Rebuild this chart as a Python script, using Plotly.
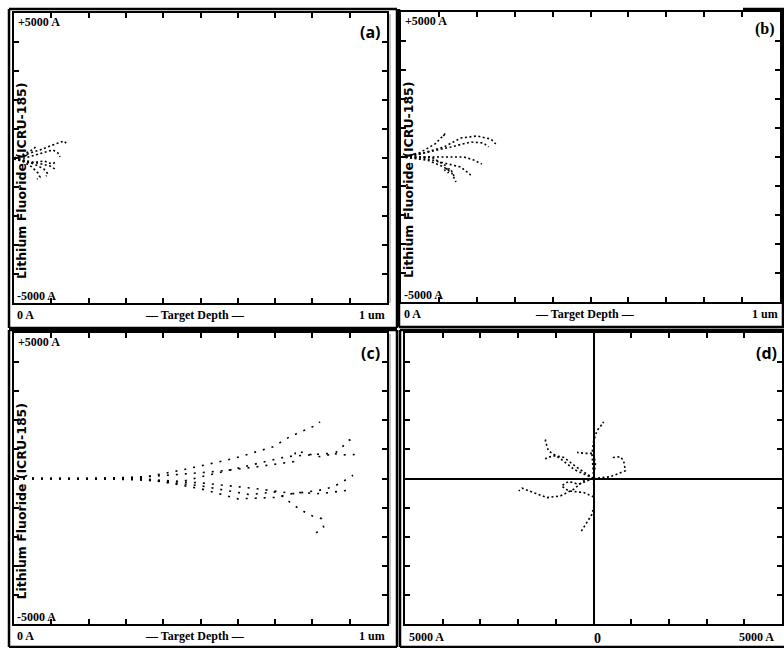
import plotly.graph_objects as go

W, H = 784, 648

# ---------------- data (Angstrom) ----------------
# Panel (a): depth (x) and lateral (y) of ion trajectories
a_tracks_x = [
    [0, 214, 429, 697, 965, 1179, 1340, 1420],
    [0, 295, 563, 831, 1045, 1179, 1233],
    [0, 214, 482, 750, 965, 1099],
    [0, 268, 482, 643, 697, 616],
    [0, 161, 375, 536, 590],
    [0, 322, 590, 804, 911, 858],
    [0, 429, 804, 1018, 1125],
]
a_tracks_y = [
    [0, 69, 173, 277, 415, 519, 588, 484],
    [0, 0, 104, 208, 277, 173, 35],
    [0, -69, -138, -208, -277, -381],
    [0, -138, -311, -519, -657, -727],
    [0, 69, 208, 311, 415],
    [0, -104, -242, -381, -554, -623],
    [-35, -173, -104, -208, -138],
]

# Panel (b)
b_tracks_x = [
    [0, 420, 1130, 1580, 2000, 2370, 2500],
    [0, 605, 1315, 1840, 2180, 2310],
    [0, 526, 1130, 1660, 1920, 2130],
    [0, 605, 1130, 1580, 1840],
    [0, 684, 1130, 1340, 1450],
    [0, 800, 1180, 1250, 1150, 1300, 1400],
    [0, 500, 900, 1180, 1100],
]
b_tracks_y = [
    [0, 69, 345, 655, 725, 620, 450],
    [0, 138, 345, 518, 483, 345],
    [0, 0, 0, 0, -104, -241],
    [0, -35, -207, -345, -621],
    [0, -104, -345, -552, -862],
    [0, 0, -300, -550, -450, -400, -650],
    [0, 150, 450, 828, 700],
]

# Panel (c)
c_tracks_x = [
    [0, 2000, 3500, 4500, 5900, 6950, 7400, 7930, 8150, 8200],
    [0, 2500, 4000, 5500, 6500, 7500, 7550, 8200, 8600, 8800, 9000, 8900],
    [0, 3000, 4500, 5500, 6500, 7300, 7900, 8500, 8800, 9270],
    [0, 3000, 5000, 6500, 7500, 8200, 8550, 8800, 9090],
    [0, 3200, 5000, 6300, 7040, 7500, 7930, 8250, 8300, 8070],
    [0, 3500, 5000, 6000, 7000, 7600, 8200, 8700, 9000],
]
c_tracks_y = [
    [0, 0, 50, 290, 690, 1090, 1440, 1720, 1860, 1950],
    [0, -20, 100, 250, 400, 580, 950, 750, 860, 1090, 1320, 1380],
    [0, 0, -100, 200, 500, 750, 810, 870, 810, 830],
    [0, -30, -150, -350, -520, -400, -290, -120, 110],
    [0, 0, -250, -550, -460, -920, -1260, -1380, -1670, -1900],
    [0, 0, -350, -700, -650, -480, -520, -450, -400],
]

# Panel (d): lateral projection
d_tracks_x = [
    [0, 5, -40, 5, 93, 225, 270, 180],
    [0, -437, -790, -1011, -1232, -1290],
    [0, 447, 845, 800, 712, 535, 491],
    [0, -261, -525, -879, -1232, -1586, -1895, -1983],
    [0, 22, -40, -217, -350],
    [0, 49, 5, -217, -437],
    [0, -400, -658, -850, -658, -261, 49],
    [0, -500, -900, -1200, -1276, -1264],
]
d_tracks_y = [
    [0, 35, 839, 1300, 1645, 1875, 1932, 1875],
    [0, 380, 725, 782, 725, 644],
    [0, 60, 265, 610, 748, 725, 667],
    [0, -82, -370, -600, -657, -485, -336, -427],
    [0, -888, -1232, -1577, -1865],
    [0, 494, 862, 862, 897],
    [0, -196, -100, -253, -427, -485, -657],
    [0, 300, 700, 955, 1300, 1357],
]

panel_letters = ["(a)", "(b)", "(c)", "(d)"]
y_title = "Lithium Fluoride (ICRU-185)"
depth_labels = ["0 A", "\u2014 Target Depth \u2014", "1 um"]
lat_top, lat_bot = "+5000 A", "-5000 A"
d_labels = ["5000 A", "0", "5000 A"]

# ---------------- layout helpers ----------------
def px(x):
    return x / W

def py(y):
    return 1 - y / H

frames = {  # left, right, top, bottom in pixels
    "a": (14, 387, 13, 303),
    "b": (401, 780, 12, 302),
    "c": (14, 387, 333, 624),
    "d": (405, 782, 333, 624),
}

fig = go.Figure()

panels = [
    ("a", "x", "y", a_tracks_x, a_tracks_y, "2px,2.5px"),
    ("b", "x2", "y2", b_tracks_x, b_tracks_y, "2px,2.5px"),
    ("c", "x3", "y3", c_tracks_x, c_tracks_y, "2px,7px"),
    ("d", "x4", "y4", d_tracks_x, d_tracks_y, "2px,2.5px"),
]

for key, xa, ya, TX, TY, dash in panels:
    for tx, ty in zip(TX, TY):
        fig.add_trace(go.Scatter(
            x=tx, y=ty, mode="lines", xaxis=xa, yaxis=ya,
            line=dict(color="black", width=1.6, dash=dash),
            hoverinfo="skip", showlegend=False,
        ))

axis_common = dict(
    ticks="inside", ticklen=5, tickwidth=1.5, tickcolor="black",
    showline=True, linewidth=2, linecolor="black", mirror="ticks",
    showgrid=False, showticklabels=False, fixedrange=True,
)

layout_axes = {}
names = ["", "2", "3", "4"]
for (key, xa, ya, *_), n in zip(panels, names):
    l, r, t, b = frames[key]
    if key == "d":
        xr, yr = [-5000, 5000], [-5000, 5000]
        xt = list(range(-5000, 5001, 1000))
        zl = True
    else:
        xr, yr = [0, 10000], [-5000, 5000]
        xt = list(range(0, 10001, 1000))
        zl = False
    yt = list(range(-5000, 5001, 1000))
    layout_axes["xaxis" + n] = dict(
        axis_common, domain=[px(l), px(r)], range=xr, tickvals=xt,
        anchor="y" + n, zeroline=zl, zerolinecolor="black", zerolinewidth=1.5)
    layout_axes["yaxis" + n] = dict(
        axis_common, domain=[py(b), py(t)], range=yr, tickvals=yt,
        anchor="x" + n, zeroline=zl, zerolinecolor="black", zerolinewidth=1.5)

fig.update_layout(
    width=W, height=H, margin=dict(l=0, r=0, t=0, b=0),
    paper_bgcolor="white", plot_bgcolor="white", showlegend=False,
    **layout_axes,
)

# outer boxes
shapes = []
def seg(x0, y0, x1, y1, w=2.5, c="black"):
    shapes.append(dict(type="line", xref="paper", yref="paper",
                       x0=px(x0), y0=py(y0), x1=px(x1), y1=py(y1),
                       line=dict(color=c, width=w)))

# panel a box
seg(9, 9, 397, 9); seg(9, 9, 9, 328); seg(397, 9, 397, 328); seg(9, 328, 397, 328)
seg(390, 14, 390, 303, w=1.5, c="#b0b0b0")
# panel b box
seg(743, 9, 784, 9); seg(399, 9, 399, 327); seg(399, 327, 784, 327); seg(783, 9, 783, 327)
# panel c box
seg(9, 330, 397, 330); seg(9, 330, 9, 647); seg(397, 330, 397, 647); seg(9, 647, 397, 647)
seg(390, 334, 390, 624, w=1.5, c="#b0b0b0")
# panel d box
seg(400, 330, 784, 330); seg(400, 330, 400, 647); seg(400, 647, 784, 647)
fig.update_layout(shapes=shapes)

ann = []
def text(x, y, s, font, xanchor="center", angle=0, bg=None):
    d = dict(x=px(x), y=py(y), xref="paper", yref="paper", text=s,
             showarrow=False, xanchor=xanchor, yanchor="middle",
             textangle=angle, font=font)
    if bg:
        d["bgcolor"] = bg
    ann.append(d)

bold_serif = dict(family="Liberation Serif", size=12, color="black", weight="bold")
bold_sans = dict(family="Open Sans", size=16, color="black", weight="bold")
title_font = dict(family="DejaVu Sans", size=12.5, color="black", weight="bold")

# depth-plot panels a, b, c
for key in ("a", "b", "c"):
    l, r, t, b = frames[key]
    lab_y = b + 12
    text(l + 1, lab_y, "<b>" + depth_labels[0] + "</b>", bold_serif, xanchor="left")
    text((l + r) / 2 - 6, lab_y, "<b>" + depth_labels[1] + "</b>", bold_serif)
    text(r, lab_y, "<b>" + depth_labels[2] + "</b>", bold_serif, xanchor="right")
    text(l + 2, t + 9, "<b>" + lat_top + "</b>", bold_serif, xanchor="left")
    text(l + 1, b - 7, "<b>" + lat_bot + "</b>", bold_serif, xanchor="left")
    text(l + 7, (t + b) / 2 + 23, "<b>" + y_title + "</b>", title_font, angle=-90)

# panel d labels
text(407, 637, "<b>" + d_labels[0] + "</b>", bold_serif, xanchor="left")
text(597, 638, "<b>" + d_labels[1] + "</b>", dict(bold_serif, size=14))
text(776, 637, "<b>" + d_labels[2] + "</b>", bold_serif, xanchor="right")

# panel letters
text(370, 32, "<b>" + panel_letters[0] + "</b>", bold_sans)
text(765, 29, "<b>" + panel_letters[1] + "</b>", dict(bold_serif, size=16))
text(370, 353, "<b>" + panel_letters[2] + "</b>", bold_sans)
text(766, 353, "<b>" + panel_letters[3] + "</b>", bold_sans)

fig.update_layout(annotations=ann)
fig.write_html("out.html")
